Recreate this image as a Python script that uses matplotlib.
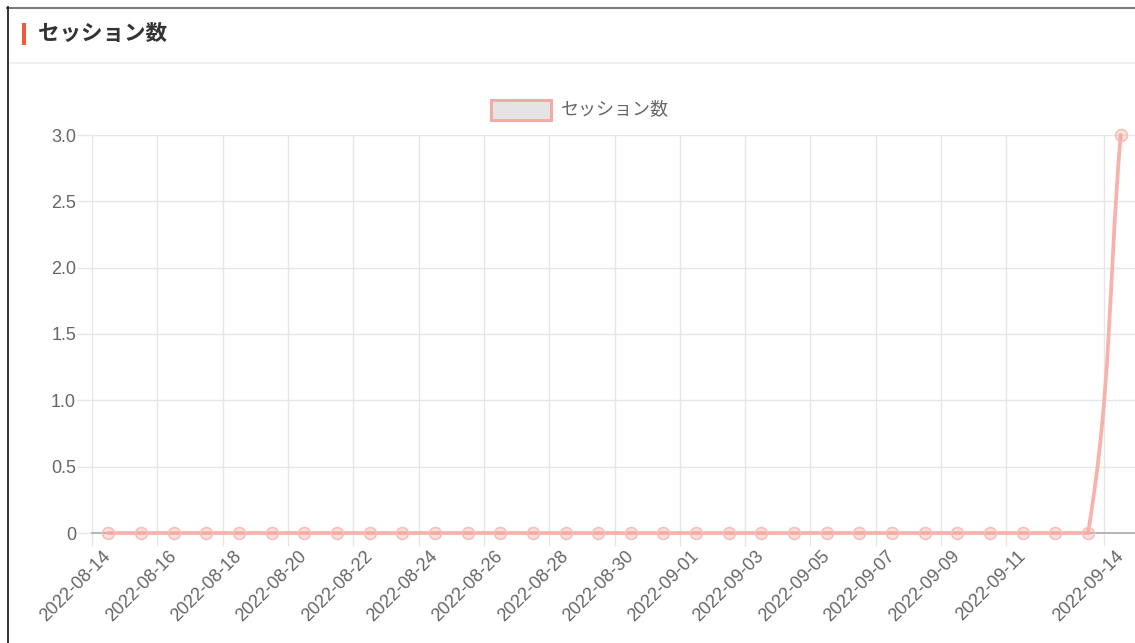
import numpy as np
import matplotlib
matplotlib.use("Agg")
import matplotlib.pyplot as plt
from matplotlib.path import Path
from matplotlib.patches import PathPatch, Rectangle
from matplotlib.lines import Line2D

# data
dates = ["2022-08-14", "2022-08-15", "2022-08-16", "2022-08-17", "2022-08-18", "2022-08-19",
         "2022-08-20", "2022-08-21", "2022-08-22", "2022-08-23", "2022-08-24", "2022-08-25",
         "2022-08-26", "2022-08-27", "2022-08-28", "2022-08-29", "2022-08-30", "2022-08-31",
         "2022-09-01", "2022-09-02", "2022-09-03", "2022-09-04", "2022-09-05", "2022-09-06",
         "2022-09-07", "2022-09-08", "2022-09-09", "2022-09-10", "2022-09-11", "2022-09-12",
         "2022-09-13", "2022-09-14"]
sessions = [0, 0, 0, 0, 0, 0, 0, 0, 0, 0, 0, 0, 0, 0, 0, 0,
            0, 0, 0, 0, 0, 0, 0, 0, 0, 0, 0, 0, 0, 0, 0, 3]
shown_label_idx = [0, 2, 4, 6, 8, 10, 12, 14, 16, 18, 20, 22, 24, 26, 28, 31]
y_ticks = [0, 0.5, 1.0, 1.5, 2.0, 2.5, 3.0]
y_tick_labels = ["0", "0.5", "1.0", "1.5", "2.0", "2.5", "3.0"]
title = "セッション数"
series_name = "セッション数"

W, H = 1135, 643
JP = ["Noto Sans CJK JP", "DejaVu Sans"]
LAT = ["Liberation Sans", "DejaVu Sans"]
line_col = "#f6b2ab"
grid_col = "#e6e6e6"
text_col = "#666666"

fig = plt.figure(figsize=(W / 100, H / 100), dpi=100)


def fx(px):
    return px / W


def fy(py):
    return 1 - py / H


# card frame and header
fig.add_artist(Line2D([fx(7), 1], [fy(7.5), fy(7.5)], color="#7a7a7a", lw=1.5, zorder=10))
fig.add_artist(Line2D([fx(7.5), fx(7.5)], [0, fy(7)], color="#222222", lw=1.3, zorder=10))
fig.add_artist(Line2D([fx(8), 1], [fy(63), fy(63)], color="#eeeeee", lw=1.2))
fig.add_artist(Rectangle((fx(22), fy(45)), fx(3.5), 22 / H, color="#f05a3a", lw=0))
fig.text(fx(38), fy(34), title, family=JP, fontsize=15.5, weight="bold",
         color="#333333", va="center", ha="left")

# legend
fig.add_artist(Rectangle((fx(490.5), fy(120)), 60 / W, 20 / H, facecolor="#e4e4e4",
                         edgecolor="#f3aca5", lw=2.2))
fig.text(fx(561), fy(109), series_name, family=JP, fontsize=13, color=text_col,
         va="center", ha="left")

# plot area
left, right, top, bottom = 92, 1137, 135, 533
ax = fig.add_axes([fx(left), fy(bottom), (right - left) / W, (bottom - top) / H])
n = len(sessions)
xmin, xmax = -0.5, n - 0.5
ymin, ymax = 0, 3
ax.set_xlim(xmin, xmax)
ax.set_ylim(ymin, ymax)
for s in ["top", "right", "left"]:
    ax.spines[s].set_visible(False)
ax.spines["bottom"].set_color("#a9a9a9")
ax.spines["bottom"].set_linewidth(1.2)
ax.spines["bottom"].set_zorder(2)

ax.set_yticks(y_ticks)
ax.set_yticklabels(y_tick_labels, family=LAT, fontsize=13, color=text_col)
ax.tick_params(axis="y", length=10.5, color=grid_col, width=1, pad=1)
ax.grid(axis="y", color=grid_col, lw=1)

ax.set_xticks(shown_label_idx)
ax.set_xticklabels([dates[i] for i in shown_label_idx], family=LAT, fontsize=13,
                   color=text_col, rotation=45, ha="right", va="center",
                   rotation_mode="anchor")
ax.tick_params(axis="x", which="major", length=0, pad=15)
grid_x = [i - 0.5 for i in shown_label_idx]
ax.set_xticks(grid_x, minor=True)
ax.tick_params(axis="x", which="minor", length=9, color=grid_col, width=1)
ax.grid(axis="x", which="minor", color=grid_col, lw=1)
ax.set_axisbelow(True)

# smooth line (chart.js style bezier, tension 0.4)
xs = np.arange(n, dtype=float)
ys = np.array(sessions, dtype=float)
sx = (right - left) / (xmax - xmin)
sy = (bottom - top) / (ymax - ymin)
t = 0.4
cp_prev = np.zeros((n, 2))
cp_next = np.zeros((n, 2))
for i in range(n):
    p = max(i - 1, 0)
    q = min(i + 1, n - 1)
    d01 = np.hypot((xs[i] - xs[p]) * sx, (ys[i] - ys[p]) * sy)
    d12 = np.hypot((xs[q] - xs[i]) * sx, (ys[q] - ys[i]) * sy)
    tot = d01 + d12
    s01 = d01 / tot if tot else 0
    s12 = d12 / tot if tot else 0
    fa, fb = t * s01, t * s12
    cp_prev[i] = [xs[i] - fa * (xs[q] - xs[p]), ys[i] - fa * (ys[q] - ys[p])]
    cp_next[i] = [xs[i] + fb * (xs[q] - xs[p]), ys[i] + fb * (ys[q] - ys[p])]
cp_prev[:, 1] = np.clip(cp_prev[:, 1], ymin, ymax)
cp_next[:, 1] = np.clip(cp_next[:, 1], ymin, ymax)

verts = [(xs[0], ys[0])]
codes = [Path.MOVETO]
for i in range(n - 1):
    verts += [tuple(cp_next[i]), tuple(cp_prev[i + 1]), (xs[i + 1], ys[i + 1])]
    codes += [Path.CURVE4] * 3
ax.add_patch(PathPatch(Path(verts, codes), facecolor="none", edgecolor=line_col,
                       lw=2.7, zorder=3, clip_on=False, capstyle="round"))
ax.plot(xs, ys, linestyle="none", marker="o", markersize=8.5,
        markerfacecolor=(0.95, 0.62, 0.58, 0.3), markeredgecolor="#f5c0bb",
        markeredgewidth=1.2, zorder=4, clip_on=False)

fig.savefig("out.png", dpi=100)
